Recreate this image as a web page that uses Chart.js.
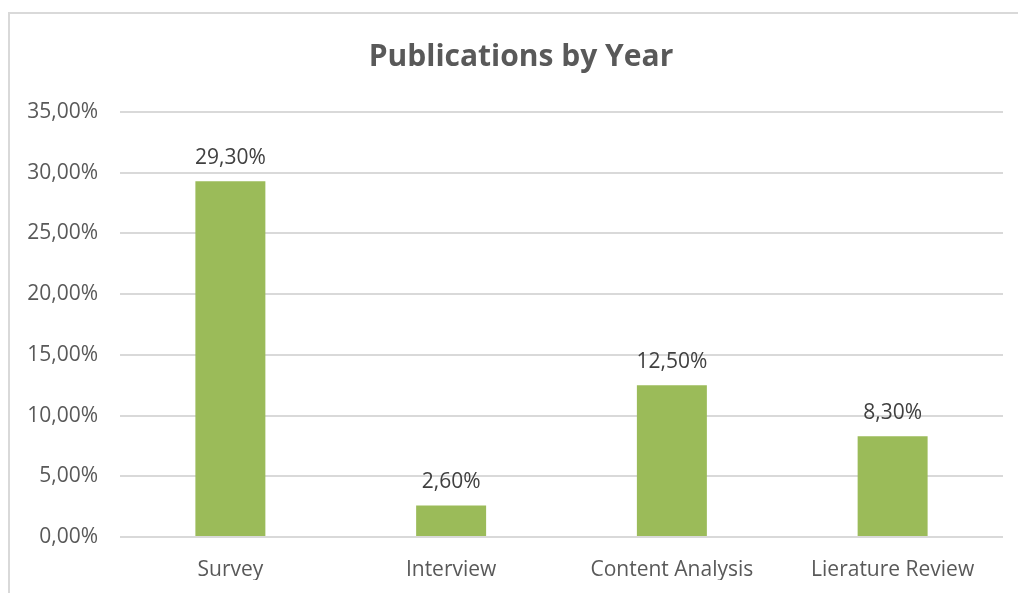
<!DOCTYPE html>
<html lang="en">
<head>
  <meta charset="UTF-8"/>
  <title>Publications by Year</title>
  <script src="https://cdn.jsdelivr.net/npm/chart.js"></script>
  <style>
    html, body { margin: 0; padding: 0; background: #fff; overflow: hidden; }
    .frame { position: absolute; left: 8px; top: 12px; width: 1040px; height: 640px; border: 2px solid #d9d9d9; box-sizing: border-box; }
    .wrap { position: absolute; left: 0; top: 0; width: 1018px; height: 593px; }
  </style>
</head>
<body>
  <div class="frame"></div>
  <div class="wrap"><canvas id="chart" width="1018" height="593"></canvas></div>

  <script>
    const categories = ['Survey', 'Interview', 'Content Analysis', 'Lierature Review'];
    const shares = [29.3, 2.6, 12.5, 8.3];
    const yTicks = [0, 5, 10, 15, 20, 25, 30, 35];

    const textColor = '#595959';
    const fontFamily = "'Open Sans', sans-serif";
    const fmt = v => v.toFixed(2).replace('.', ',') + '%';

    // value labels above each bar
    const barLabels = {
      id: 'barLabels',
      afterDatasetsDraw(chart) {
        const ctx = chart.ctx;
        const meta = chart.getDatasetMeta(0);
        ctx.save();
        ctx.font = '21px ' + fontFamily;
        ctx.fillStyle = '#404040';
        ctx.textAlign = 'center';
        ctx.textBaseline = 'middle';
        meta.data.forEach((bar, i) => {
          ctx.fillText(fmt(shares[i]), bar.x, bar.y - 23);
        });
        ctx.restore();
      }
    };

    new Chart(document.getElementById('chart'), {
      type: 'bar',
      data: {
        labels: categories,
        datasets: [{
          data: shares,
          backgroundColor: '#9bbb59',
          barPercentage: 1,
          categoryPercentage: 0.317
        }]
      },
      options: {
        responsive: false,
        animation: false,
        devicePixelRatio: 1,
        // left padding keeps the title centred where the reference has it
        layout: { padding: { left: 39, right: 15, top: 0, bottom: 13 } },
        plugins: {
          legend: { display: false },
          tooltip: { enabled: false },
          title: {
            display: true,
            text: 'Publications by Year',
            color: textColor,
            font: { family: fontFamily, size: 30, weight: 'bold' },
            padding: { top: 39, bottom: 37 }
          }
        },
        scales: {
          x: {
            afterFit(scale) { scale.height = 43; },
            grid: { display: false, drawTicks: false },
            border: { display: false },
            ticks: { color: textColor, font: { family: fontFamily, size: 21 }, padding: 20 }
          },
          y: {
            min: 0,
            max: 35,
            afterFit(scale) {
              scale.width = 81;
              // labels are wider than the box, don't clip them
              scale._computeLabelArea = () => undefined;
            },
            afterBuildTicks(scale) { scale.ticks = yTicks.map(v => ({ value: v })); },
            grid: { color: '#d9d9d9', lineWidth: 2, drawTicks: false },
            border: { display: false },
            ticks: { color: textColor, font: { family: fontFamily, size: 21 }, padding: 22, callback: v => fmt(v) }
          }
        }
      },
      plugins: [barLabels]
    });
  </script>
</body>
</html>
